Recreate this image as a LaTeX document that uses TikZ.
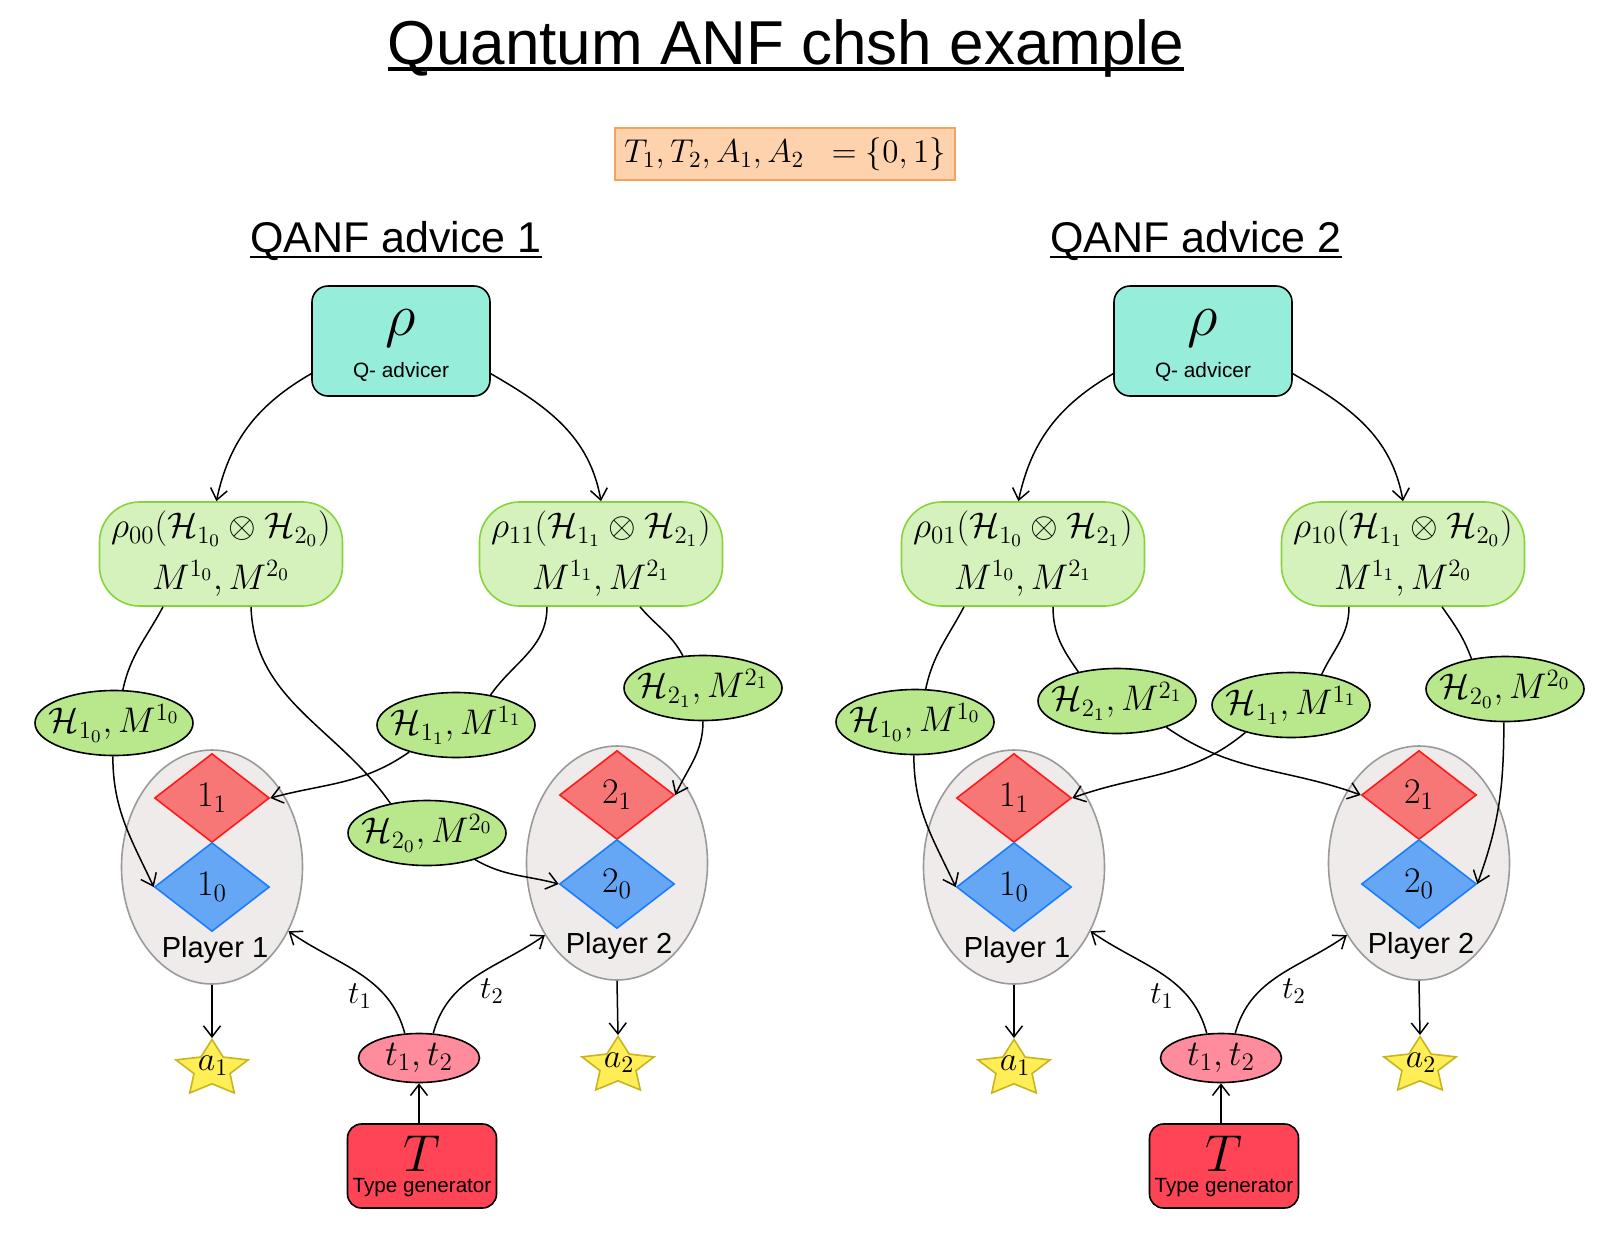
\RequirePackage{fix-cm}
\documentclass[tikz,border=0pt]{standalone}
\usepackage[no-math]{fontspec}
\setmainfont{Liberation Sans}
\usetikzlibrary{shapes.geometric,arrows.meta,calc}
\definecolor{qcol}{HTML}{96EDD9}
\definecolor{rhofill}{HTML}{D5F2BC}
\definecolor{rhodraw}{HTML}{86D33A}
\definecolor{hfill}{HTML}{B9E78B}
\definecolor{pfill}{HTML}{F0EBEB}
\definecolor{pdraw}{HTML}{9A9A9A}
\definecolor{redfill}{HTML}{F77777}
\definecolor{reddraw}{HTML}{FF1A1A}
\definecolor{bluefill}{HTML}{66A7F5}
\definecolor{bluedraw}{HTML}{1A7DFF}
\definecolor{starfill}{HTML}{FFEE55}
\definecolor{stardraw}{HTML}{C8B51E}
\definecolor{ttfill}{HTML}{FF8C9C}
\definecolor{Tfill}{HTML}{FF4456}
\definecolor{orfill}{HTML}{FDD2AD}
\definecolor{ordraw}{HTML}{F5A25C}
\tikzset{
 conn/.style={line width=0.75pt, draw=black},
 arr/.style={conn, -{Straight Barb[length=5.5pt,width=8.5pt]}},
 orbox/.style={draw=ordraw, line width=0.8pt, fill=orfill, minimum width=170pt, minimum height=26pt, inner sep=0pt, font=\fontsize{16.5}{20}\selectfont},
 qbox/.style={draw=black, line width=0.8pt, fill=qcol, rounded corners=8pt, minimum width=89pt, minimum height=55pt, inner sep=0pt, align=center, font=\fontsize{10}{21}\selectfont},
 rhobox/.style={draw=rhodraw, line width=0.8pt, fill=rhofill, rounded corners=20pt, minimum width=121.5pt, minimum height=52pt, inner sep=0pt, align=center, font=\fontsize{17.8}{26}\selectfont},
 hell/.style={ellipse, draw=black, line width=0.8pt, fill=hfill, minimum width=79pt, minimum height=32.5pt, inner xsep=-10pt, inner ysep=-2pt, font=\fontsize{17.8}{20}\selectfont},
 pell/.style={ellipse, draw=pdraw, line width=0.8pt, fill=pfill, minimum width=90.5pt, minimum height=117pt, inner sep=0pt},
 dred/.style={diamond, draw=reddraw, line width=0.8pt, fill=redfill, minimum width=57.5pt, minimum height=44.5pt, inner sep=0pt, font=\fontsize{18}{20}\selectfont},
 dblue/.style={diamond, draw=bluedraw, line width=0.8pt, fill=bluefill, minimum width=57.5pt, minimum height=44.5pt, inner sep=0pt, font=\fontsize{18}{20}\selectfont},
 astar/.style={star, star points=5, star point ratio=2.0, draw=stardraw, fill=starfill, line width=0.8pt, minimum size=37.9pt, inner sep=0pt, transform shape},
 slabel/.style={inner sep=0pt, font=\fontsize{17}{19}\selectfont},
 ttell/.style={ellipse, draw=black, line width=0.8pt, fill=ttfill, minimum width=60.5pt, minimum height=24.5pt, inner xsep=-6pt, inner ysep=-2pt, font=\fontsize{18}{20}\selectfont},
 tbox/.style={draw=black, line width=0.8pt, fill=Tfill, rounded corners=7pt, minimum width=74.5pt, minimum height=42pt, inner sep=0pt, align=center, font=\fontsize{10}{10.5}\selectfont},
 plabel/.style={inner sep=0pt, font=\fontsize{14.5}{17}\selectfont},
 tlabel/.style={inner sep=0pt, font=\fontsize{16}{18}\selectfont},
}
\begin{document}
\begin{tikzpicture}[x=0.5pt,y=0.5pt]
\useasboundingbox (0,0) rectangle (1602,-1254);
\fill[white] (0,0) rectangle (1602,-1254);

% title
\node[font=\fontsize{31}{36}\selectfont, inner sep=0pt, anchor=base] (title) at (786,-64) {Quantum ANF chsh example};
\draw[line width=1.6pt] ($(title.base west)+(0,-5)$) -- ($(title.base east)+(0,-5)$);
\node[orbox] (types) at (785,-154) {$T_1,T_2,A_1,A_2\;\;=\{0,1\}$};

\node[font=\fontsize{21.5}{26}\selectfont, inner sep=0pt, anchor=base] (adv1) at (396,-252) {QANF advice 1};
\draw[line width=1pt] ($(adv1.base west)+(0,-4.5)$) -- ($(adv1.base east)+(0,-4.5)$);
\node[font=\fontsize{21.5}{26}\selectfont, inner sep=0pt, anchor=base] (adv2) at (1196,-252) {QANF advice 2};
\draw[line width=1pt] ($(adv2.base west)+(0,-4.5)$) -- ($(adv2.base east)+(0,-4.5)$);

% ================= left panel =================
\node[qbox] (qa1) at (401,-341) {\rule{0pt}{17.4pt}{\fontsize{30}{30}\selectfont$\rho$}\\{\fontsize{10.4}{12}\selectfont Q- advicer}};
\node[rhobox] (r00) at (221,-554) {$\rho_{00}(\mathcal{H}_{1_0}\otimes\mathcal{H}_{2_0})$\\$M^{1_0},M^{2_0}$};
\node[rhobox] (r11) at (601,-554) {$\rho_{11}(\mathcal{H}_{1_1}\otimes\mathcal{H}_{2_1})$\\$M^{1_1},M^{2_1}$};
\node[hell] (h10a) at (114,-723) {$\mathcal{H}_{1_0},M^{1_0}$};
\node[hell] (h11a) at (456,-725) {$\mathcal{H}_{1_1},M^{1_1}$};
\node[hell] (h21a) at (703,-688) {$\mathcal{H}_{2_1},M^{2_1}$};
\node[pell] (p1a) at (212,-867) {};
\node[pell] (p2a) at (617,-863) {};
\node[hell] (h20a) at (427,-833) {$\mathcal{H}_{2_0},M^{2_0}$};
\node[dred] (d11a) at (212,-798) {$1_1$};
\node[dblue] (d10a) at (212,-887) {$1_0$};
\node[dred] (d21a) at (617,-795) {$2_1$};
\node[dblue] (d20a) at (617,-884) {$2_0$};
\node[plabel] (p1at) at (215,-950) {Player 1};
\node[plabel] (p2at) at (619,-946) {Player 2};
\begin{scope}[shift={(212,-1069)},yscale=0.78]
\node[astar] (a1a) at (0,0) {};
\end{scope}
\begin{scope}[shift={(618,-1066)},yscale=0.78]
\node[astar] (a2a) at (0,0) {};
\end{scope}
\node[slabel] (a1at) at (213,-1066) {$a_1$};
\node[slabel] (a2at) at (619,-1063) {$a_2$};
\node[ttell] (tta) at (419,-1058) {$t_1,t_2$};
\node[tbox] (Ta) at (422,-1166) {{\fontsize{26}{26}\selectfont$T$}\\{\fontsize{10.3}{12}\selectfont Type generator}};
\node[tlabel] (t1a) at (360,-996) {$t_1$};
\node[tlabel] (t2a) at (492,-991) {$t_2$};

\draw[arr] (qa1.200) to[out=210,in=78] (r00.95);
\draw[arr] (qa1.340) to[out=-30,in=100] (r11.north);
\draw[conn] ($(r00.south)+(-58,0)$) to[out=-118,in=78] (h10a.75);
\draw[conn] ($(r00.south)+(30,0)$) to[out=-88,in=125] (h20a.141);
\draw[conn] ($(r11.south)+(-54,0)$) to[out=-90,in=55] (h11a.41);
\draw[conn] ($(r11.south)+(39,0)$) to[out=-50,in=118] (h21a.122);
\draw[arr] (h10a.268) to[out=-90,in=115] (d10a.west);
\draw[arr] (h11a.210) to[out=-145,in=15] (d11a.east);
\draw[arr] (h21a.270) to[out=-90,in=65] (d21a.east);
\draw[arr] (h20a.-29) to[out=-30,in=165] (d20a.west);
\draw[arr] (p1a.south) -- (a1a.north);
\draw[arr] (p2a.south) -- (a2a.north);
\draw[arr] (tta.120) to[out=105,in=-35] (p1a.-40);
\draw[arr] (tta.60) to[out=75,in=215] (p2a.225);
\draw[arr] (Ta.north -| tta.south) -- (tta.south);

% ================= right panel =================
\node[qbox] (qa2) at (1203,-341) {\rule{0pt}{17.4pt}{\fontsize{30}{30}\selectfont$\rho$}\\{\fontsize{10.4}{12}\selectfont Q- advicer}};
\node[rhobox] (r01) at (1023,-554) {$\rho_{01}(\mathcal{H}_{1_0}\otimes\mathcal{H}_{2_1})$\\$M^{1_0},M^{2_1}$};
\node[rhobox] (r10) at (1403,-554) {$\rho_{10}(\mathcal{H}_{1_1}\otimes\mathcal{H}_{2_0})$\\$M^{1_1},M^{2_0}$};
\node[hell] (h10b) at (915,-722) {$\mathcal{H}_{1_0},M^{1_0}$};
\node[hell] (h21b) at (1117,-701) {$\mathcal{H}_{2_1},M^{2_1}$};
\node[hell] (h11b) at (1291,-705) {$\mathcal{H}_{1_1},M^{1_1}$};
\node[hell] (h20b) at (1505,-689) {$\mathcal{H}_{2_0},M^{2_0}$};
\node[pell] (p1b) at (1014,-867) {};
\node[pell] (p2b) at (1419,-863) {};
\node[dred] (d11b) at (1014,-798) {$1_1$};
\node[dblue] (d10b) at (1014,-887) {$1_0$};
\node[dred] (d21b) at (1419,-795) {$2_1$};
\node[dblue] (d20b) at (1419,-884) {$2_0$};
\node[plabel] (p1bt) at (1017,-950) {Player 1};
\node[plabel] (p2bt) at (1421,-946) {Player 2};
\begin{scope}[shift={(1014,-1069)},yscale=0.78]
\node[astar] (a1b) at (0,0) {};
\end{scope}
\begin{scope}[shift={(1420,-1066)},yscale=0.78]
\node[astar] (a2b) at (0,0) {};
\end{scope}
\node[slabel] (a1bt) at (1015,-1066) {$a_1$};
\node[slabel] (a2bt) at (1421,-1063) {$a_2$};
\node[ttell] (ttb) at (1221,-1058) {$t_1,t_2$};
\node[tbox] (Tb) at (1224,-1166) {{\fontsize{26}{26}\selectfont$T$}\\{\fontsize{10.3}{12}\selectfont Type generator}};
\node[tlabel] (t1b) at (1162,-996) {$t_1$};
\node[tlabel] (t2b) at (1294,-991) {$t_2$};

\draw[arr] (qa2.200) to[out=210,in=78] (r01.95);
\draw[arr] (qa2.340) to[out=-30,in=100] (r10.north);
\draw[conn] ($(r01.south)+(-59,0)$) to[out=-118,in=78] (h10b.72);
\draw[conn] ($(r01.south)+(30,0)$) to[out=-90,in=125] (h21b.143);
\draw[conn] ($(r10.south)+(-54,0)$) to[out=-90,in=65] (h11b.45);
\draw[conn] ($(r10.south)+(39,0)$) to[out=-55,in=110] (h20b.138);
\draw[arr] (h10b.268) to[out=-90,in=115] (d10b.west);
\draw[arr] (h21b.-28) to[out=-35,in=160] (d21b.west);
\draw[arr] (h11b.211) to[out=-140,in=20] (d11b.east);
\draw[arr] (h20b.268) to[out=-90,in=70] (d20b.east);
\draw[arr] (p1b.south) -- (a1b.north);
\draw[arr] (p2b.south) -- (a2b.north);
\draw[arr] (ttb.120) to[out=105,in=-35] (p1b.-40);
\draw[arr] (ttb.60) to[out=75,in=215] (p2b.225);
\draw[arr] (Tb.north -| ttb.south) -- (ttb.south);
\end{tikzpicture}
\end{document}
